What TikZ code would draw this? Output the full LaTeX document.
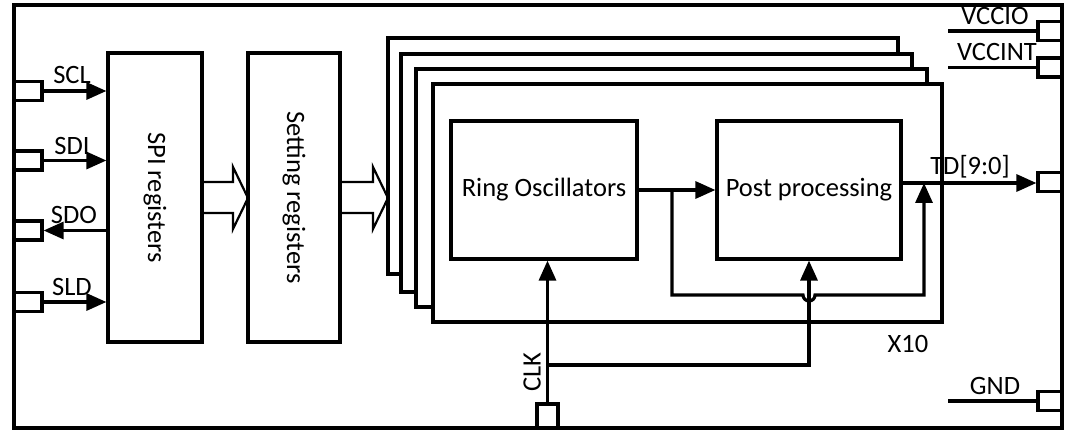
\documentclass[tikz,border=0pt]{standalone}
\usepackage{fontspec}
\setmainfont{Carlito}
\usetikzlibrary{arrows.meta}

\begin{document}
\begin{tikzpicture}[x=1pt, y=-1pt, >={Triangle[length=20pt,width=17pt]}, line width=3.2pt,
  every node/.style={font=\fontsize{26.5}{31}\selectfont},
  blk/.style={draw, fill=white, inner sep=0pt},
  port/.style={draw, fill=white, inner sep=0pt, minimum width=24pt, minimum height=19pt},
  hollow/.style={line width=2.2pt, line join=miter}]
  \useasboundingbox (0,0) rectangle (1067,430);
  \draw (14,5) rectangle (1062,428);

  \node[blk, minimum width=94pt, minimum height=289pt] (spi) at (155,197.5) {};
  \node[rotate=-90] (spitxt) at (spi) {SPI registers};
  \node[blk, minimum width=92pt, minimum height=289pt] (setreg) at (294,197.5) {};
  \node[rotate=-90] (settxt) at (setreg) {Setting registers};

  \draw[hollow] (202,182) -- (233,182) -- (233,167) -- (248,198) -- (233,229) -- (233,213) -- (202,213);
  \draw[hollow] (340,182) -- (373,182) -- (373,167) -- (388,198) -- (373,229) -- (373,213) -- (340,213);

  \foreach \xa/\ya/\xb/\yb in {388/38/898/274, 401/54/912/292, 416/69/927/307, 433/84/942/322}
    \draw[fill=white] (\xa,\ya) rectangle (\xb,\yb);

  \node[blk, minimum width=186pt, minimum height=138pt] (ring) at (544,190) {Ring Oscillators};
  \node[blk, minimum width=184pt, minimum height=138pt] (post) at (809,190) {Post processing};

  \node[port, minimum width=28pt] (scl) at (28,91) {};
  \node[port, minimum width=28pt] (sdi) at (28,160.5) {};
  \node[port, minimum width=28pt] (sdo) at (28,230.5) {};
  \node[port, minimum width=28pt] (sld) at (28,302) {};
  \node[port] (vccio) at (1050,31) {};
  \node[port] (vccint) at (1050,67.5) {};
  \node[port] (td) at (1050,182) {};
  \node[port] (gnd) at (1050,401) {};
  \node[port, minimum width=21pt, minimum height=24pt] (clk) at (547.5,416) {};

  \draw[->] (scl.east) -- (scl.east -| spi.west);
  \draw[->] (sdi.east) -- (sdi.east -| spi.west);
  \draw[->] (sdo.east -| spi.west) -- (sdo.east);
  \draw[->] (sld.east) -- (sld.east -| spi.west);
  \node (sclt) at (72,75) {SCL};
  \node (sdit) at (72,146) {SDI};
  \node (sdot) at (74,215) {SDO};
  \node (sldt) at (72,287) {SLD};

  \draw (vccio.west) -- ++(-88,0);
  \draw (vccint.west) -- ++(-88,0);
  \draw (gnd.west) -- ++(-88,0);
  \node (vcciot) at (995,16) {VCCIO};
  \node (vccintt) at (997,52) {VCCINT};
  \node (gndt) at (995,386) {GND};
  \node (x10) at (908,344) {X10};

  \coordinate (tap) at (672,190);
  \coordinate (tdout) at (901,183);
  \coordinate (fbup) at (924,295);
  \coordinate (clkbr) at (547,365);
  \draw[->] (ring.east) -- (post.west);
  \draw[->] (tap) -- (672,295) -- (803,295) arc[start angle=180, end angle=360, radius=6pt] -- (fbup) -- (fbup |- tdout);
  \draw[->] (tdout) -- (tdout -| td.west);
  \node (tdt) at (970,167) {TD[9:0]};

  \draw[->] (clk.north) -- (clk.north |- ring.south);
  \draw[->] (clkbr) -| (post.south);
  \node[rotate=90] (clkt) at (532,372) {CLK};
\end{tikzpicture}
\end{document}
